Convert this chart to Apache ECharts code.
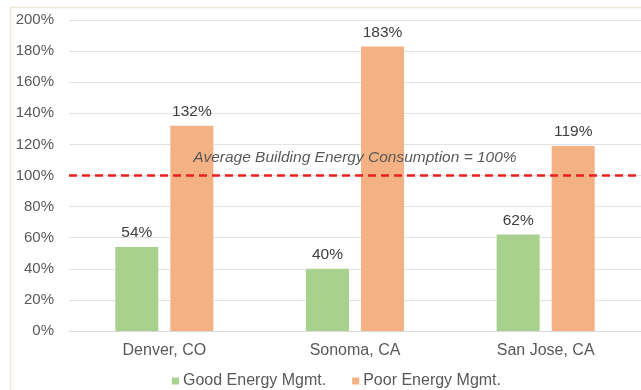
<!DOCTYPE html>
<html><head><meta charset="utf-8">
<script src="https://cdn.jsdelivr.net/npm/echarts@6/dist/echarts.min.js"></script>
<style>html,body{margin:0;padding:0;background:#fff}#c{width:641px;height:390px}</style>
</head><body><div id="c"></div>
<script>
const categories = ['Denver, CO', 'Sonoma, CA', 'San Jose, CA'];
const goodValues = [54, 40, 62];
const poorValues = [132, 183, 119];
const seriesNames = ['Good Energy Mgmt.', 'Poor Energy Mgmt.'];
const referenceValue = 100;
const referenceLabel = 'Average Building Energy Consumption = 100%';

const chart = echarts.init(document.getElementById('c'), null, {renderer: 'canvas'});
const FF = 'Liberation Sans, Arial';
const labelStyle = {show: true, position: 'top', formatter: '{c}%', color: '#404040', fontSize: 15.5, fontFamily: FF, distance: 6};
chart.setOption({
  animation: false,
  backgroundColor: '#fff',
  graphic: [{type: 'rect', left: 8, top: 5, shape: {width: 700, height: 400}, style: {fill: 'none', stroke: '#efe6d4', lineWidth: 1.5}, z: -1}],
  grid: {left: 69, right: -5, top: 20, bottom: 59},
  legend: {
    top: 373, left: 172, padding: 0, itemWidth: 7, itemHeight: 7, itemGap: 26,
    textStyle: {color: '#595959', fontSize: 16, fontFamily: FF, padding: [0, 0, 0, -1]},
    data: seriesNames.map(n => ({name: n, icon: 'rect'}))
  },
  xAxis: {
    type: 'category', data: categories,
    axisLine: {show: true, lineStyle: {color: '#d9d9d9'}}, axisTick: {show: false},
    axisLabel: {color: '#595959', fontSize: 16, fontFamily: FF, margin: 12}
  },
  yAxis: {
    type: 'value', min: 0, max: 200, interval: 20,
    axisLine: {show: false}, axisTick: {show: false},
    splitLine: {lineStyle: {color: '#e3e3e3', width: 1}},
    axisLabel: {formatter: '{value}%', color: '#595959', fontSize: 15, fontFamily: FF, margin: 15}
  },
  series: [
    {name: seriesNames[0], type: 'bar', data: goodValues, barWidth: 43, barGap: '28%',
     itemStyle: {color: '#a9d18e'}, label: labelStyle,
     markLine: {
       silent: true, symbol: 'none',
       lineStyle: {color: '#e8211f', type: [8, 5], width: 2.5},
       label: {show: true, position: 'insideMiddleTop', formatter: referenceLabel, color: '#595959', fontSize: 15.5, fontStyle: 'italic', fontFamily: FF, distance: 10},
       data: [{yAxis: referenceValue}]
     }},
    {name: seriesNames[1], type: 'bar', data: poorValues, barWidth: 43,
     itemStyle: {color: '#f4b183'}, label: labelStyle}
  ]
});
</script></body></html>
